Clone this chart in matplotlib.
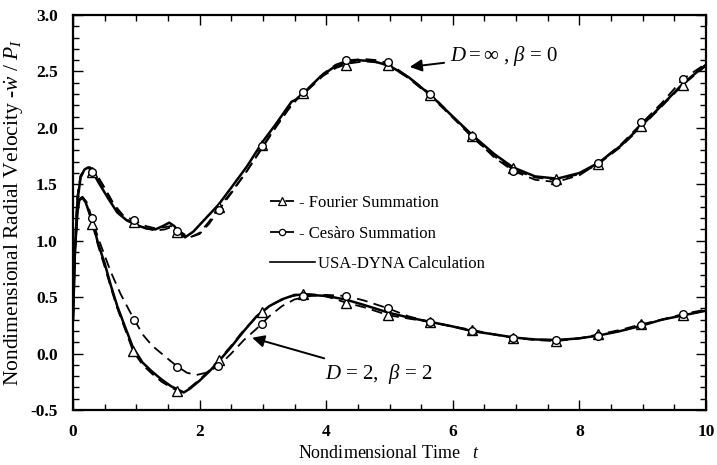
import matplotlib
matplotlib.use("Agg")
import matplotlib.pyplot as plt
from matplotlib.lines import Line2D
from matplotlib.ticker import MultipleLocator

# ---------------- data ----------------
# Upper case: D = inf, beta = 0
up_dyna_t = [0, 0.03, 0.07, 0.12, 0.18, 0.24, 0.3, 0.4, 0.55, 0.7, 0.85, 1.0, 1.15, 1.3, 1.42, 1.52,
             1.6, 1.7, 1.77, 1.9, 2.1, 2.3, 2.5, 2.75, 3.0, 3.2, 3.35, 3.45, 3.55, 3.7, 3.9, 4.1,
             4.3, 4.5, 4.75, 5.0, 5.3, 5.65, 6.0, 6.3, 6.65, 6.95, 7.3, 7.65, 8.0, 8.3, 8.65, 9.0,
             9.3, 9.65, 10.0]
up_dyna_v = [0.3, 0.9, 1.35, 1.56, 1.63, 1.65, 1.62, 1.52, 1.38, 1.25, 1.18, 1.14, 1.11, 1.10, 1.13, 1.16,
             1.13, 1.06, 1.03, 1.08, 1.2, 1.32, 1.47, 1.66, 1.88, 2.03, 2.15, 2.23, 2.26, 2.34, 2.45, 2.53,
             2.58, 2.60, 2.59, 2.55, 2.45, 2.29, 2.10, 1.94, 1.77, 1.65, 1.57, 1.55, 1.60, 1.69, 1.84, 2.03,
             2.20, 2.40, 2.56]

up_four_t = [0, 0.03, 0.07, 0.12, 0.2, 0.27, 0.35, 0.5, 0.65, 0.8, 0.97, 1.15, 1.3, 1.45, 1.55, 1.65,
             1.75, 1.85, 2.0, 2.15, 2.3, 2.5, 2.75, 3.0, 3.2, 3.4, 3.55, 3.7, 3.95, 4.15, 4.35, 4.6,
             4.8, 5.0, 5.3, 5.65, 6.0, 6.3, 6.65, 6.95, 7.3, 7.63, 8.0, 8.3, 8.65, 9.0, 9.3, 9.63, 10.0]
up_four_v = [0.3, 0.95, 1.4, 1.58, 1.64, 1.65, 1.6, 1.46, 1.31, 1.2, 1.16, 1.11, 1.09, 1.1, 1.12, 1.1,
             1.06, 1.03, 1.07, 1.17, 1.29, 1.43, 1.62, 1.83, 2.0, 2.16, 2.26, 2.33, 2.46, 2.53, 2.57, 2.59,
             2.58, 2.55, 2.44, 2.28, 2.09, 1.92, 1.75, 1.63, 1.56, 1.54, 1.59, 1.68, 1.83, 2.02, 2.19, 2.38, 2.55]
up_four_mt = [0.3, 0.97, 1.65, 2.3, 2.98, 3.64, 4.32, 4.98, 5.64, 6.3, 6.95, 7.63, 8.3, 8.98, 9.63]
up_four_mv = [1.61, 1.17, 1.08, 1.30, 1.85, 2.31, 2.56, 2.56, 2.29, 1.93, 1.64, 1.55, 1.68, 2.02, 2.38]

up_ces_t = [0, 0.03, 0.07, 0.12, 0.2, 0.27, 0.35, 0.5, 0.65, 0.8, 0.97, 1.15, 1.3, 1.45, 1.55, 1.65,
            1.75, 1.85, 2.0, 2.15, 2.3, 2.5, 2.75, 3.0, 3.2, 3.4, 3.55, 3.7, 3.95, 4.15, 4.35, 4.6,
            4.8, 5.0, 5.3, 5.65, 6.0, 6.3, 6.65, 6.95, 7.3, 7.63, 8.0, 8.3, 8.65, 9.0, 9.3, 9.63, 10.0]
up_ces_v = [0.3, 0.92, 1.38, 1.57, 1.64, 1.65, 1.61, 1.47, 1.32, 1.22, 1.18, 1.13, 1.11, 1.12, 1.13, 1.1,
            1.05, 1.03, 1.06, 1.15, 1.27, 1.42, 1.62, 1.84, 2.01, 2.17, 2.27, 2.34, 2.48, 2.56, 2.60, 2.61,
            2.6, 2.57, 2.45, 2.3, 2.1, 1.93, 1.74, 1.62, 1.54, 1.52, 1.58, 1.69, 1.85, 2.05, 2.22, 2.43, 2.57]
up_ces_mt = [0.3, 0.97, 1.65, 2.3, 2.98, 3.64, 4.32, 4.98, 5.64, 6.3, 6.95, 7.63, 8.3, 8.98, 9.63]
up_ces_mv = [1.61, 1.18, 1.09, 1.27, 1.84, 2.32, 2.60, 2.58, 2.30, 1.93, 1.62, 1.52, 1.69, 2.05, 2.43]

# Lower case: D = 2, beta = 2
lo_dyna_t = [0, 0.03, 0.07, 0.1, 0.15, 0.2, 0.3, 0.4, 0.5, 0.6, 0.7, 0.8, 0.95, 1.1, 1.25, 1.4,
             1.55, 1.66, 1.75, 1.85, 2.0, 2.15, 2.3, 2.5, 2.7, 2.9, 3.1, 3.3, 3.5, 3.75, 4.0, 4.3,
             4.6, 5.0, 5.3, 5.65, 6.0, 6.3, 6.65, 7.0, 7.3, 7.65, 8.0, 8.3, 8.65, 9.0, 9.3, 9.65, 10.0]
lo_dyna_v = [0.3, 0.9, 1.25, 1.36, 1.38, 1.34, 1.18, 0.97, 0.8, 0.6, 0.42, 0.27, 0.05, -0.08, -0.16, -0.23,
             -0.29, -0.32, -0.345, -0.31, -0.24, -0.16, -0.07, 0.06, 0.2, 0.33, 0.42, 0.48, 0.52, 0.52, 0.51, 0.48,
             0.43, 0.36, 0.32, 0.28, 0.24, 0.20, 0.17, 0.14, 0.125, 0.12, 0.135, 0.16, 0.2, 0.25, 0.3, 0.34, 0.38]

lo_four_t = [0, 0.03, 0.07, 0.1, 0.15, 0.2, 0.3, 0.4, 0.5, 0.6, 0.7, 0.8, 0.95, 1.1, 1.25, 1.4,
             1.55, 1.65, 1.75, 1.85, 2.0, 2.15, 2.3, 2.5, 2.7, 2.98, 3.2, 3.4, 3.64, 3.9, 4.1, 4.32,
             4.6, 4.98, 5.3, 5.64, 6.0, 6.3, 6.65, 6.95, 7.3, 7.63, 8.0, 8.3, 8.65, 8.98, 9.3, 9.63, 10.0]
lo_four_v = [0.3, 0.92, 1.27, 1.37, 1.39, 1.35, 1.16, 0.95, 0.77, 0.58, 0.4, 0.25, 0.02, -0.1, -0.18, -0.25,
             -0.3, -0.33, -0.34, -0.3, -0.23, -0.15, -0.06, 0.07, 0.21, 0.37, 0.45, 0.5, 0.53, 0.52, 0.49, 0.45,
             0.41, 0.34, 0.31, 0.28, 0.24, 0.21, 0.17, 0.14, 0.12, 0.11, 0.135, 0.17, 0.21, 0.26, 0.3, 0.34, 0.38]
lo_four_mt = [0.3, 0.95, 1.65, 2.3, 2.98, 3.64, 4.32, 4.98, 5.64, 6.3, 6.95, 7.63, 8.3, 8.98, 9.63]
lo_four_mv = [1.15, 0.02, -0.33, -0.06, 0.37, 0.53, 0.45, 0.34, 0.28, 0.21, 0.14, 0.11, 0.17, 0.26, 0.34]

lo_ces_t = [0, 0.03, 0.07, 0.11, 0.16, 0.22, 0.3, 0.4, 0.5, 0.6, 0.75, 0.9, 1.0, 1.1, 1.25, 1.4,
            1.55, 1.65, 1.8, 1.95, 2.1, 2.3, 2.5, 2.7, 2.9, 3.1, 3.3, 3.5, 3.75, 4.0, 4.32, 4.6,
            4.98, 5.3, 5.64, 6.0, 6.3, 6.65, 6.95, 7.3, 7.63, 8.0, 8.3, 8.65, 8.98, 9.3, 9.63, 10.0]
lo_ces_v = [0.3, 0.9, 1.25, 1.37, 1.38, 1.34, 1.2, 1.02, 0.87, 0.72, 0.53, 0.37, 0.27, 0.17, 0.07, 0.0,
            -0.07, -0.115, -0.17, -0.19, -0.17, -0.11, 0.0, 0.12, 0.22, 0.33, 0.42, 0.48, 0.51, 0.52, 0.51, 0.47,
            0.40, 0.33, 0.28, 0.24, 0.20, 0.17, 0.14, 0.125, 0.12, 0.135, 0.16, 0.2, 0.25, 0.3, 0.35, 0.39]
lo_ces_mt = [0.3, 0.96, 1.64, 2.29, 2.98, 3.64, 4.32, 4.98, 5.64, 6.3, 6.95, 7.63, 8.3, 8.98, 9.63]
lo_ces_mv = [1.2, 0.30, -0.115, -0.11, 0.26, 0.51, 0.51, 0.40, 0.28, 0.20, 0.14, 0.12, 0.16, 0.25, 0.35]

legend_labels = ["- Fourier Summation", "- Ces\u00e0ro Summation", "USA-DYNA Calculation"]
x_ticks = [0, 2, 4, 6, 8, 10]
y_ticks = [-0.5, 0.0, 0.5, 1.0, 1.5, 2.0, 2.5, 3.0]

# ---------------- style ----------------
plt.rcParams['font.family'] = ['Liberation Serif', 'DejaVu Serif']
plt.rcParams['mathtext.fontset'] = 'custom'
plt.rcParams['mathtext.rm'] = 'Liberation Serif'
plt.rcParams['mathtext.it'] = 'Liberation Serif:italic'
plt.rcParams['mathtext.bf'] = 'Liberation Serif:bold'

fig = plt.figure(figsize=(7.17, 4.65), dpi=100)
ax = fig.add_axes([0.1018, 0.1183, 0.8829, 0.8494])

dash = (6, 3.5)
lw_d = 1.3
lw_s = 1.8
k = 'black'

for tt, vv in [(up_dyna_t, up_dyna_v), (lo_dyna_t, lo_dyna_v)]:
    ax.plot(tt, vv, color=k, lw=lw_s, solid_joinstyle='round')
for tt, vv in [(up_four_t, up_four_v), (lo_four_t, lo_four_v), (up_ces_t, up_ces_v), (lo_ces_t, lo_ces_v)]:
    ax.plot(tt, vv, color=k, lw=lw_d, dashes=dash)
for tt, vv in [(up_four_mt, up_four_mv), (lo_four_mt, lo_four_mv)]:
    ax.plot(tt, vv, ls='none', marker='^', ms=7, mfc='white', mec=k, mew=1.0)
for tt, vv in [(up_ces_mt, up_ces_mv), (lo_ces_mt, lo_ces_mv)]:
    ax.plot(tt, vv, ls='none', marker='o', ms=5.5, mfc='white', mec=k, mew=1.0)

ax.set_xlim(0, 10)
ax.set_ylim(-0.5, 3.0)
ax.set_xticks(x_ticks)
ax.set_yticks(y_ticks)
ax.set_xticklabels([str(v) for v in x_ticks])
ax.set_yticklabels([f"{v:.1f}" for v in y_ticks])
ax.xaxis.set_minor_locator(MultipleLocator(0.5))
ax.yaxis.set_minor_locator(MultipleLocator(0.1))
ax.tick_params(which='both', direction='in', top=True, right=True, width=1.0)
ax.tick_params(which='major', length=7, labelsize=12.5)
ax.tick_params(axis='x', which='major', pad=10)
ax.tick_params(axis='y', which='major', pad=11)
ax.tick_params(which='minor', length=4)
for lab in ax.get_xticklabels() + ax.get_yticklabels():
    lab.set_fontweight('bold')
for sp in ax.spines.values():
    sp.set_linewidth(1.6)

ax.set_xlabel(r"Nondimensional Time   $t$", fontsize=13, labelpad=4)
ax.set_ylabel(r"Nondimensional Radial Velocity -$\dot{w}$ / $P_I$", fontsize=15.5, labelpad=3)

h_dashed = [
    Line2D([], [], color=k, lw=lw_d, dashes=(5.5, 3), marker='^', ms=6, mfc='white', mec=k, mew=0.9),
    Line2D([], [], color=k, lw=lw_d, dashes=(5.5, 3), marker='o', ms=4.5, mfc='white', mec=k, mew=0.9),
]
h_solid = [Line2D([], [], color=k, lw=1.2)]

leg1 = ax.legend(h_dashed, legend_labels[:2], loc='upper left', bbox_to_anchor=(0.3, 0.562),
                 frameon=False, fontsize=12, handlelength=1.45, handletextpad=0.3,
                 labelspacing=0.9, borderaxespad=0)
ax.add_artist(leg1)
ax.legend(h_solid, legend_labels[2:], loc='upper left', bbox_to_anchor=(0.3, 0.407),
          frameon=False, fontsize=12, handlelength=2.75, handletextpad=0.15,
          borderaxespad=0)

ax.annotate(r"$D = \infty$ , $\beta$ = 0", xy=(5.32, 2.54), xytext=(5.95, 2.64),
            fontsize=15, va='center', ha='left',
            arrowprops=dict(arrowstyle='-|>', color=k, lw=1.4, mutation_scale=18,
                            shrinkA=2, shrinkB=0))
ax.annotate(r"$D$ = 2,  $\beta$ = 2", xy=(2.83, 0.14), xytext=(3.98, -0.18),
            fontsize=15, va='center', ha='left',
            arrowprops=dict(arrowstyle='-|>', color=k, lw=1.4, mutation_scale=18,
                            shrinkA=2, shrinkB=0))

fig.savefig("out.png", dpi=100)
